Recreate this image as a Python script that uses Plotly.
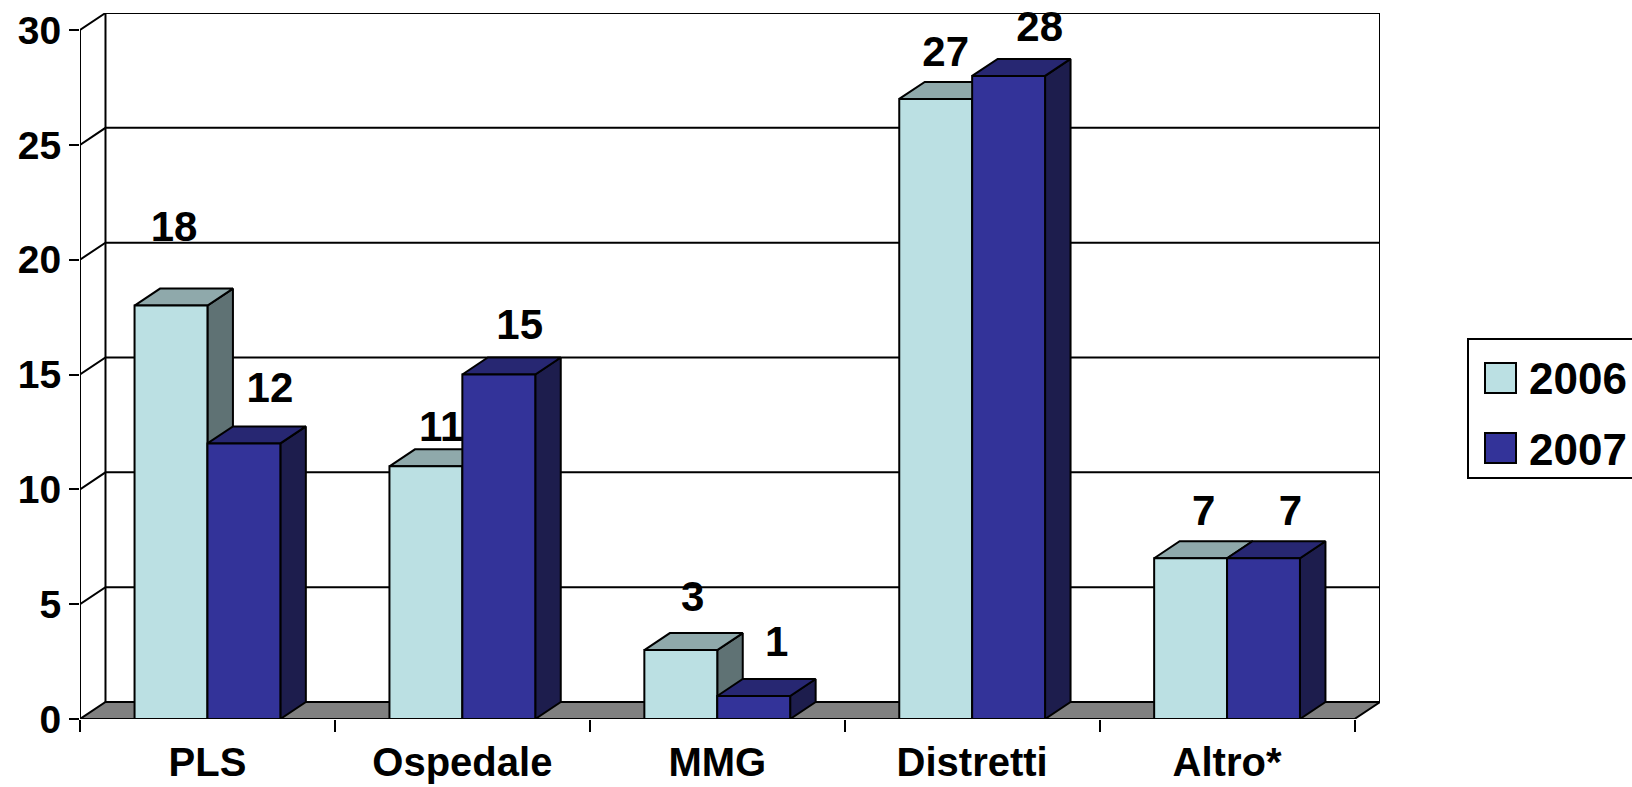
import plotly.graph_objects as go

# ---------------- data ----------------
categories = ["PLS", "Ospedale", "MMG", "Distretti", "Altro*"]
series_names = ["2006", "2007"]
values_2006 = [18, 11, 3, 27, 7]
values_2007 = [12, 15, 1, 28, 7]
y_tick_values = [0, 5, 10, 15, 20, 25, 30]

# ---------------- style / geometry ----------------
FONT = "Arial, 'Liberation Sans', sans-serif"
N = len(categories)
Y_MAX = 30
DX = 0.1      # depth offset (category units)
DY = 0.741    # depth offset (value units)
BAR_W = 0.286
LW = 2

front_colors = ["#BBE0E3", "#333399"]
top_colors = ["#8FA9AB", "#272772"]
side_colors = ["#5F7274", "#1D1D4D"]

# label nudges relative to bar centre / bar top (data units)
label_dx = [[0.012, 0.060, 0.047, 0.039, 0.051],
            [0.102, 0.082, 0.090, 0.122, 0.106]]
label_dy = [[3.28, 1.56, 2.15, 1.87, 1.90],
            [2.26, 2.01, 2.18, 1.96, 1.90]]

fig = go.Figure()


def poly(xs, ys, fill, width=LW):
    fig.add_trace(go.Scatter(
        x=xs + [xs[0]], y=ys + [ys[0]], mode="lines", fill="toself",
        fillcolor=fill, line=dict(color="black", width=width),
        hoverinfo="skip", showlegend=False, cliponaxis=False))


# floor
poly([0, N, N + DX, DX], [0, 0, DY, DY], "#808080")

# walls: gridlines (left wall diagonals + back wall horizontals) and edges
gx, gy = [], []
for v in y_tick_values:
    if v == 0:
        continue
    gx += [0, DX, N + DX, None]
    gy += [v, v + DY, v + DY, None]
gx += [DX, DX, None, N + DX, N + DX, None, 0, 0, None]
gy += [DY, Y_MAX + DY, None, DY, Y_MAX + DY, None, 0, Y_MAX, None]
fig.add_trace(go.Scatter(x=gx, y=gy, mode="lines",
                         line=dict(color="black", width=LW),
                         hoverinfo="skip", showlegend=False, cliponaxis=False))

# bars (drawn left to right) with value labels
all_values = [values_2006, values_2007]
for i in range(N):
    for s in range(2):
        v = all_values[s][i]
        x0 = i + 0.5 - BAR_W if s == 0 else i + 0.5
        x1 = x0 + BAR_W
        # side face
        poly([x1, x1 + DX, x1 + DX, x1], [0, DY, v + DY, v], side_colors[s])
        # top face
        poly([x0, x1, x1 + DX, x0 + DX], [v, v, v + DY, v + DY], top_colors[s])
        # front face
        poly([x0, x1, x1, x0], [0, 0, v, v], front_colors[s])
        # value label
        fig.add_trace(go.Scatter(
            x=[(x0 + x1) / 2 + label_dx[s][i]], y=[v + label_dy[s][i]],
            mode="text", text=[f"<b>{v}</b>"], textposition="middle center",
            textfont=dict(family=FONT, size=42, color="black"),
            hoverinfo="skip", showlegend=False, cliponaxis=False))

# ---------------- legend (manual) ----------------
PLOT_L, PLOT_R, PLOT_T, PLOT_B = 80, 1380, 13, 719


def px2paper_x(px):
    return (px - PLOT_L) / (PLOT_R - PLOT_L)


def px2paper_y(py):
    return (PLOT_B - py) / (PLOT_B - PLOT_T)


shapes = [dict(type="rect", xref="paper", yref="paper",
               x0=px2paper_x(1468), x1=px2paper_x(1700),
               y0=px2paper_y(478), y1=px2paper_y(339),
               line=dict(color="black", width=LW), fillcolor="white", layer="above")]
annotations = []
sw_top = [363, 433]
for s in range(2):
    shapes.append(dict(type="rect", xref="paper", yref="paper",
                       x0=px2paper_x(1485), x1=px2paper_x(1516),
                       y0=px2paper_y(sw_top[s] + 30), y1=px2paper_y(sw_top[s]),
                       line=dict(color="black", width=LW), fillcolor=front_colors[s],
                       layer="above"))
    annotations.append(dict(xref="paper", yref="paper", x=px2paper_x(1527),
                            y=px2paper_y(sw_top[s] + 16), xanchor="left", yanchor="middle",
                            text=f"<b>{series_names[s]}</b>", showarrow=False,
                            font=dict(family=FONT, size=44, color="black")))

fig.update_layout(
    width=1632, height=787,
    margin=dict(l=PLOT_L, r=1632 - PLOT_R, t=PLOT_T, b=787 - PLOT_B, autoexpand=False),
    paper_bgcolor="white", plot_bgcolor="white",
    showlegend=False,
    shapes=shapes, annotations=annotations,
    xaxis=dict(range=[0, N + DX], tickmode="array",
               tickvals=[i + 0.5 for i in range(N)], ticktext=categories,
               tickfont=dict(family=FONT, size=40, color="black", weight="bold"),
               ticks="", showgrid=False, zeroline=False, showline=False,
               ticklabelstandoff=16,
               minor=dict(tickmode="linear", tick0=0, dtick=1, ticks="outside",
                          ticklen=12, tickwidth=LW, tickcolor="black", showgrid=False),
               fixedrange=True),
    yaxis=dict(range=[0, Y_MAX + DY], tickmode="array", tickvals=y_tick_values,
               tickfont=dict(family=FONT, size=39, color="black", weight="bold"),
               ticks="outside", ticklen=10, tickwidth=LW, tickcolor="black",
               showgrid=False, zeroline=False, showline=False,
               ticklabelstandoff=0, fixedrange=True),
)

fig.write_html("out.html")
